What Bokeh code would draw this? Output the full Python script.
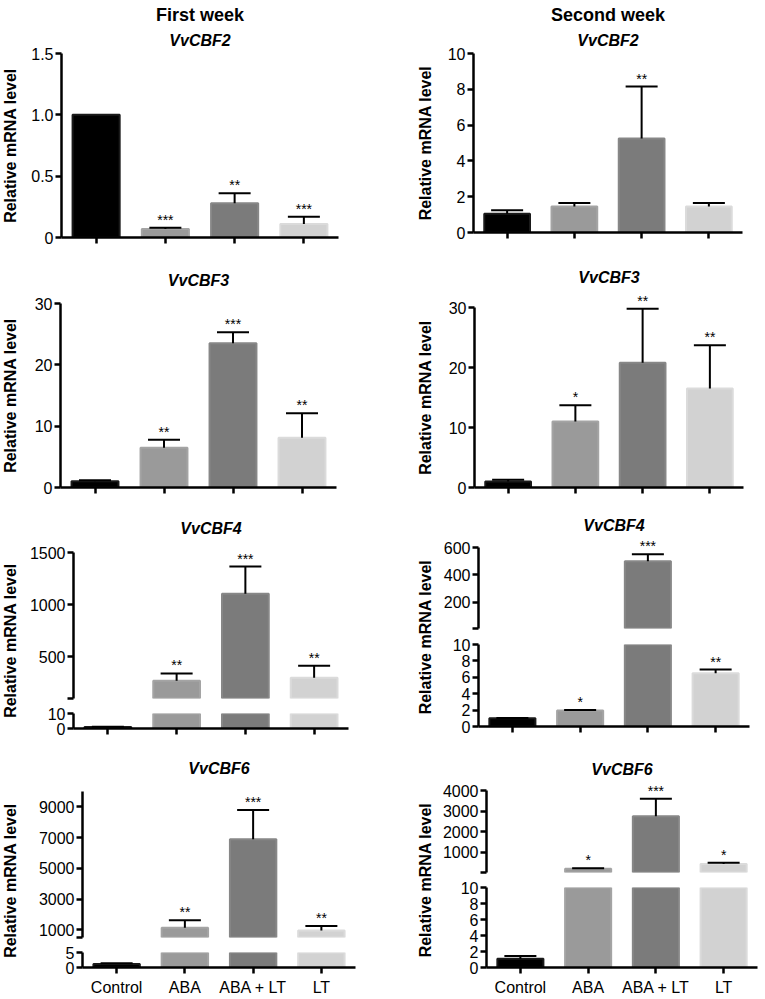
import math
from bokeh.plotting import figure
from bokeh.layouts import row, column
from bokeh.models import Range1d, FixedTicker, Whisker, TeeHead, ColumnDataSource, Title
from bokeh.core.properties import value
from bokeh.embed import file_html
from bokeh.resources import INLINE

FONT = "Liberation Sans"

# ---------------- data ----------------
categories = ["Control", "ABA", "ABA + LT", "LT"]
bar_fill = ["#000000", "#9a9a9a", "#7b7b7b", "#d2d2d2"]
bar_edge = ["#1a1a1a", "#a4a4a4", "#878787", "#dbdbdb"]

week_titles = ["First week", "Second week"]
genes = ["VvCBF2", "VvCBF3", "VvCBF4", "VvCBF6"]
y_label = "Relative mRNA level"

# First week
w1_cbf2 = [1.0, 0.07, 0.28, 0.11]
w1_cbf2_sd = [0.0, 0.01, 0.08, 0.06]
w1_cbf2_sig = ["", "***", "**", "***"]
w1_cbf3 = [1.0, 6.5, 23.5, 8.1]
w1_cbf3_sd = [0.2, 1.3, 1.8, 4.0]
w1_cbf3_sig = ["", "**", "***", "**"]
w1_cbf4 = [1.0, 270, 1105, 300]
w1_cbf4_sd = [0.1, 70, 260, 115]
w1_cbf4_sig = ["", "**", "***", "**"]
w1_cbf6 = [1.2, 1130, 6900, 950]
w1_cbf6_sd = [0.2, 500, 1900, 300]
w1_cbf6_sig = ["", "**", "***", "**"]

# Second week
w2_cbf2 = [1.05, 1.45, 5.25, 1.45]
w2_cbf2_sd = [0.2, 0.2, 2.9, 0.2]
w2_cbf2_sig = ["", "", "**", ""]
w2_cbf3 = [1.0, 11.0, 20.8, 16.5]
w2_cbf3_sd = [0.3, 2.7, 9.0, 7.2]
w2_cbf3_sig = ["", "*", "**", "**"]
w2_cbf4 = [1.0, 1.95, 500, 6.5]
w2_cbf4_sd = [0.05, 0.05, 50, 0.45]
w2_cbf4_sig = ["", "*", "***", "**"]
w2_cbf6 = [1.1, 190, 2750, 420]
w2_cbf6_sd = [0.35, 30, 850, 70]
w2_cbf6_sig = ["", "*", "***", "*"]

# y-axis segments (low, high, ticks, tick labels); broken axes list the upper segment first
w1_cbf2_axis = [(0, 1.5, [0, 0.5, 1.0, 1.5], ["0", "0.5", "1.0", "1.5"])]
w2_cbf2_axis = [(0, 10, [0, 2, 4, 6, 8, 10], ["0", "2", "4", "6", "8", "10"])]
w1_cbf3_axis = [(0, 30, [0, 10, 20, 30], ["0", "10", "20", "30"])]
w2_cbf3_axis = [(0, 30, [0, 10, 20, 30], ["0", "10", "20", "30"])]
w1_cbf4_axis = [(100, 1500, [100, 500, 1000, 1500], ["", "500", "1000", "1500"]),
                (0, 10, [0, 10], ["0", "10"])]
w2_cbf4_axis = [(10, 600, [10, 200, 400, 600], ["", "200", "400", "600"]),
                (0, 10, [0, 2, 4, 6, 8, 10], ["0", "2", "4", "6", "8", "10"])]
w1_cbf6_axis = [(500, 10000, [500, 1000, 3000, 5000, 7000, 9000], ["", "1000", "3000", "5000", "7000", "9000"]),
                (0, 5, [0, 5], ["0", "5"])]
w2_cbf6_axis = [(10, 4000, [10, 1000, 2000, 3000, 4000], ["", "1000", "2000", "3000", "4000"]),
                (0, 10, [0, 2, 4, 6, 8, 10], ["0", "2", "4", "6", "8", "10"])]

# ---------------- layout (pixels) ----------------
LAB_W, LEFT_W, RIGHT_W = 20, 395, 329
AX_W = 2.5

# per panel: left border, frame width, per-segment (axis top, axis span, headroom, bottom border), title standoff
geom = {
    "p1": dict(ml=41, fw=277, segs=[(53, 184, 0, 16)], ts=10),
    "p2": dict(ml=38, fw=269, segs=[(53, 179, 0, 21)], ts=10),
    "p3": dict(ml=40, fw=276, segs=[(50, 184, 0, 18)], ts=30),
    "p4": dict(ml=39, fw=269, segs=[(54, 180, 14, 18)], ts=16),
    "p5": dict(ml=53, fw=275, segs=[(47, 146, 4, 7), (8, 15, 0, 14)], ts=23),
    "p6": dict(ml=43, fw=271, segs=[(42, 81, 10, 8), (8, 82, 0, 16)], ts=8),
    "p7": dict(ml=62, fw=273, segs=[(49, 146, 0, 7), (8, 17, 0, 29)], ts=29),
    "p8": dict(ml=51, fw=271, segs=[(48, 82, 9, 7), (8, 82, 0, 29)], ts=8),
}

xpos = [i + 0.5 for i in range(len(categories))]


def style_axes(p, ticks, labels, show_x_labels):
    ya = p.yaxis[0]
    ya.ticker = FixedTicker(ticks=ticks)
    ya.major_label_overrides = {t: s for t, s in zip(ticks, labels)}
    ya.axis_line_width = AX_W
    ya.axis_line_color = "black"
    ya.major_tick_line_width = AX_W
    ya.major_tick_out = 6
    ya.major_tick_in = 0
    ya.minor_tick_line_color = None
    ya.major_label_text_font = FONT
    ya.major_label_text_font_size = "16px"
    ya.major_label_text_color = "black"
    ya.major_label_standoff = 2
    xa = p.xaxis[0]
    xa.ticker = FixedTicker(ticks=xpos)
    xa.axis_line_width = AX_W
    xa.axis_line_color = "black"
    xa.major_tick_line_width = AX_W
    xa.major_tick_out = 6
    xa.major_tick_in = 0
    xa.minor_tick_line_color = None
    xa.major_label_text_font = FONT
    xa.major_label_text_color = "black"
    if show_x_labels:
        xa.major_label_standoff = 5
        xa.major_label_text_font_size = "16px"
        xa.major_label_overrides = {x: c for x, c in zip(xpos, categories)}
    else:
        xa.major_label_standoff = 0
        xa.major_label_text_font_size = "6px"
        xa.major_label_overrides = {x: "" for x in xpos}


def seg_figure(width, ml, fw, seg, lo, hi, ticks, labels, vals, sd, sig, is_bottom, show_x):
    top, span, head, mb = seg
    height = top + span + mb
    y_end = hi + head * (hi - lo) / span
    p = figure(width=width, height=height, x_range=Range1d(0, len(categories)),
               y_range=Range1d(lo, y_end), output_backend="svg", toolbar_location=None,
               min_border_left=ml, min_border_right=width - ml - fw,
               min_border_top=top - head, min_border_bottom=mb)
    p.outline_line_color = None
    p.grid.visible = False
    p.background_fill_color = "white"
    p.border_fill_color = "white"
    style_axes(p, ticks, labels, show_x)
    p.yaxis[0].bounds = (lo, hi)
    if not is_bottom:
        p.xaxis[0].visible = False

    bx, bt, bb, bf, be = [], [], [], [], []
    for i, v in enumerate(vals):
        if v > lo:
            bx.append(xpos[i]); bt.append(min(v, hi)); bb.append(lo)
            bf.append(bar_fill[i]); be.append(bar_edge[i])
    p.vbar(x="x", top="top", bottom="bottom", width=0.68, fill_color="fill", line_color="edge",
           line_width=2, source=ColumnDataSource(dict(x=bx, top=bt, bottom=bb, fill=bf, edge=be)))

    wx, wl, wu = [], [], []
    sx, sy, st = [], [], []
    for i, v in enumerate(vals):
        if lo < v <= hi:
            if sd[i] > 0:
                wx.append(xpos[i]); wl.append(v); wu.append(v + sd[i])
            if sig[i]:
                sx.append(xpos[i]); sy.append(v + sd[i]); st.append(sig[i])
    if wx:
        w = Whisker(base="base", lower="lower", upper="upper",
                    source=ColumnDataSource(dict(base=wx, lower=wl, upper=wu)),
                    line_width=2, line_color="black", level="annotation",
                    upper_head=TeeHead(size=32, line_width=2, line_color="black"), lower_head=None)
        p.add_layout(w)
    if sx:
        p.text(x="x", y="y", text="t", source=ColumnDataSource(dict(x=sx, y=sy, t=st)),
               text_font=value(FONT), text_font_size=value("14px"), text_align="center",
               text_baseline="bottom", text_color="black")
    return p


def label_figure(height, mt, mb):
    p = figure(width=LAB_W, height=height, x_range=Range1d(0, 1), y_range=Range1d(0, 1),
               output_backend="svg", toolbar_location=None, x_axis_location=None, y_axis_location=None,
               min_border_left=0, min_border_right=0, min_border_top=mt, min_border_bottom=mb)
    p.outline_line_color = None
    p.grid.visible = False
    p.text(x=[0.5], y=[0.5], text=[y_label], angle=math.pi / 2, text_align="center",
           text_baseline="middle", text_font=value(FONT), text_font_size=value("16px"),
           text_font_style="bold", text_color="black")
    return p


def panel(key, width, vals, sd, sig, axis, gene, week=None, show_x=False):
    g = geom[key]
    figs = []
    n = len(axis)
    for k, (lo, hi, ticks, labels) in enumerate(axis):
        f = seg_figure(width, g["ml"], g["fw"], g["segs"][k], lo, hi, ticks, labels, vals, sd, sig,
                       is_bottom=(k == n - 1), show_x=show_x)
        figs.append(f)
    top_fig = figs[0]
    gene_title = Title(text=gene, align="center", text_font=FONT, text_font_size="16px",
                       text_font_style="bold italic", text_color="black", standoff=g["ts"])
    if week:
        t = top_fig.title
        t.text = week
        t.align = "center"
        t.text_font = FONT
        t.text_font_size = "18px"
        t.text_font_style = "bold"
        t.text_color = "black"
        t.standoff = 0
        top_fig.add_layout(gene_title, "above")
    else:
        top_fig.title = gene_title
    H = sum(s[0] + s[1] + s[3] for s in g["segs"])
    lab = label_figure(H, g["segs"][0][0], g["segs"][-1][3])
    return column(lab, spacing=0), column(*figs, spacing=0)


rows = []
spec = [
    (("p1", w1_cbf2, w1_cbf2_sd, w1_cbf2_sig, w1_cbf2_axis), ("p2", w2_cbf2, w2_cbf2_sd, w2_cbf2_sig, w2_cbf2_axis)),
    (("p3", w1_cbf3, w1_cbf3_sd, w1_cbf3_sig, w1_cbf3_axis), ("p4", w2_cbf3, w2_cbf3_sd, w2_cbf3_sig, w2_cbf3_axis)),
    (("p5", w1_cbf4, w1_cbf4_sd, w1_cbf4_sig, w1_cbf4_axis), ("p6", w2_cbf4, w2_cbf4_sd, w2_cbf4_sig, w2_cbf4_axis)),
    (("p7", w1_cbf6, w1_cbf6_sd, w1_cbf6_sig, w1_cbf6_axis), ("p8", w2_cbf6, w2_cbf6_sd, w2_cbf6_sig, w2_cbf6_axis)),
]
for r, (left, right) in enumerate(spec):
    last = (r == len(spec) - 1)
    labL, bodyL = panel(left[0], LEFT_W, left[1], left[2], left[3], left[4], genes[r],
                        week=week_titles[0] if r == 0 else None, show_x=last)
    labR, bodyR = panel(right[0], RIGHT_W, right[1], right[2], right[3], right[4], genes[r],
                        week=week_titles[1] if r == 0 else None, show_x=last)
    rows.append(row(labL, bodyL, labR, bodyR, spacing=0))

page = column(*rows, spacing=0)
open("out.html", "w").write(file_html(page, INLINE))
